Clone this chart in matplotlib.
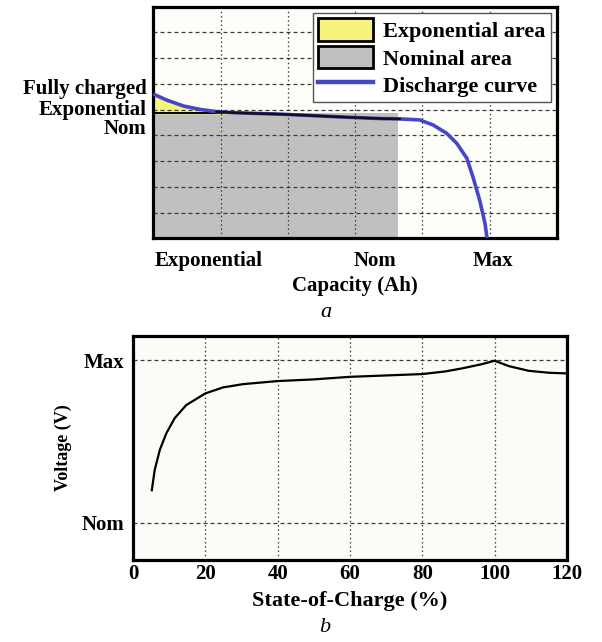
import matplotlib
matplotlib.use("Agg")
import matplotlib.pyplot as plt
from matplotlib.patches import Rectangle, Patch
from matplotlib.lines import Line2D

plt.rcParams['font.family'] = ['Liberation Serif', 'DejaVu Serif']
plt.rcParams['font.weight'] = 'bold'

# ---- (a) discharge characteristic ----
capacity = [0.0, 0.03, 0.2, 0.45, 0.69, 0.94, 1.2, 1.44, 1.93, 2.43, 2.92, 3.41,
            3.66, 3.96, 4.16, 4.36, 4.51, 4.66, 4.75, 4.85, 4.93, 4.96]
voltage_a = [5.61, 5.57, 5.37, 5.14, 5.01, 4.92, 4.88, 4.86, 4.82, 4.76, 4.70, 4.65,
             4.64, 4.60, 4.40, 4.08, 3.69, 3.11, 2.39, 1.49, 0.58, 0.0]
exp_level = 4.86          # voltage at end of exponential zone
exp_cap = 1.44            # capacity at end of exponential zone
nom_cap = 3.64            # nominal capacity
a_xtick_pos = [0.82, 3.29, 5.05]
a_xtick_labels = ['Exponential', 'Nom', 'Max']
a_ytick_pos = [5.88, 5.10, 4.33]
a_ytick_labels = ['Fully charged', 'Exponential', 'Nom']
legend_labels = ['Exponential area', 'Nominal area', 'Discharge curve']

# ---- (b) charge characteristic ----
soc = [5.2, 6.0, 7.4, 9.2, 11.5, 14.7, 20, 24.9, 30.4, 40, 49.8, 60, 80, 86.3,
       91, 96.5, 100, 103.9, 109.4, 115, 120]
voltage_b = [0.20, 0.324, 0.447, 0.549, 0.642, 0.723, 0.795, 0.832, 0.852, 0.871,
             0.881, 0.897, 0.914, 0.93, 0.949, 0.975, 0.996, 0.963, 0.934, 0.922, 0.918]
b_xticks = [0, 20, 40, 60, 80, 100, 120]
b_yticks = [0, 1]
b_ytick_labels = ['Nom', 'Max']

YELLOW = '#f6f47c'
GREY = '#c0c0c0'
BLUE = '#4646c8'
GRID = '#3a3a3a'
FS = 15

W, H = 602, 642
fig = plt.figure(figsize=(W / 100, H / 100), dpi=100)


def px_axes(l, t, r, b):
    return fig.add_axes([l / W, 1 - b / H, (r - l) / W, (b - t) / H])


def style_grid(ax, xs, ys, x0, x1, y0, y1):
    for x in xs:
        ax.plot([x, x], [y0, y1], color=GRID, lw=0.9, ls=(0, (1.2, 2.2)), zorder=2)
    for y in ys:
        ax.plot([x0, x1], [y, y], color=GRID, lw=0.9, ls=(0, (3.2, 2.4)), zorder=2)


# ----- chart a -----
ax1 = px_axes(153.3, 6.7, 557, 238.3)
ax1.set_facecolor('#fdfdf9')
ax1.set_xlim(0, 6)
ax1.set_ylim(0, 9)

ax1.add_patch(Rectangle((0, 0), nom_cap, exp_level, facecolor=GREY,
                        edgecolor='none', zorder=1))
ax1.fill_between(capacity[:8], voltage_a[:8], exp_level, color=YELLOW, zorder=1)
style_grid(ax1, [1, 2, 3, 4, 5], range(1, 9), 0, 6, 0, 9)
ax1.plot([0, exp_cap], [exp_level, exp_level], color='black', lw=1.4, zorder=3)
ax1.plot(capacity, voltage_a, color=BLUE, lw=2.6, zorder=4,
         solid_capstyle='butt')
seg = [i for i, c in enumerate(capacity) if 0.9 <= c <= nom_cap + 0.02]
ax1.plot([capacity[i] for i in seg], [voltage_a[i] for i in seg],
         color='#101018', lw=1.8, zorder=5)

ax1.set_xticks(a_xtick_pos)
ax1.set_xticklabels(a_xtick_labels, fontsize=FS, fontweight='bold')
ax1.set_yticks(a_ytick_pos)
ax1.set_yticklabels(a_ytick_labels, fontsize=FS, fontweight='bold')
ax1.tick_params(length=0, pad=5)
ax1.tick_params(axis='x', pad=9)
for s in ax1.spines.values():
    s.set_linewidth(2.3)
ax1.set_xlabel('Capacity (Ah)', fontsize=FS, fontweight='bold', labelpad=4)

handles = [Patch(facecolor=YELLOW, edgecolor='black', linewidth=2.0),
           Patch(facecolor=GREY, edgecolor='black', linewidth=2.0),
           Line2D([0], [0], color=BLUE, lw=3.2)]
leg = ax1.legend(handles, legend_labels, loc='upper right',
                 prop={'weight': 'bold', 'size': 16},
                 handlelength=2.45, handleheight=1.2, handletextpad=0.45,
                 labelspacing=0.15, borderpad=0.25, borderaxespad=0.28,
                 fancybox=False, framealpha=1, edgecolor='#555555')
leg.get_frame().set_linewidth(1.0)
leg.set_zorder(10)

fig.text(326 / W, 1 - 312 / H, 'a', fontsize=16, fontstyle='italic',
         fontweight='normal', ha='center', va='center')

# ----- chart b -----
ax2 = px_axes(133, 336, 567, 560)
ax2.set_facecolor('#fbfbf8')
ax2.set_xlim(0, 120)
ax2.set_ylim(-0.229, 1.148)
style_grid(ax2, [20, 40, 60, 80, 100], b_yticks, 0, 120, -0.229, 1.148)
ax2.plot(soc, voltage_b, color='black', lw=1.6, zorder=4)

ax2.set_xticks(b_xticks)
ax2.set_xticklabels([str(v) for v in b_xticks], fontsize=FS, fontweight='bold')
ax2.set_yticks(b_yticks)
ax2.set_yticklabels(b_ytick_labels, fontsize=FS, fontweight='bold')
ax2.tick_params(length=0)
ax2.tick_params(axis='y', pad=6)
ax2.tick_params(axis='x', pad=3)
for s in ax2.spines.values():
    s.set_linewidth(2.3)
ax2.set_xlabel('State-of-Charge (%)', fontsize=16, fontweight='bold', labelpad=5)
ax2.set_ylabel('Voltage (V)', fontsize=13, fontweight='bold', labelpad=7)

fig.text(325 / W, 1 - 628 / H, 'b', fontsize=16, fontstyle='italic',
         fontweight='normal', ha='center', va='center')

fig.savefig('out.png', dpi=100, facecolor='white')
